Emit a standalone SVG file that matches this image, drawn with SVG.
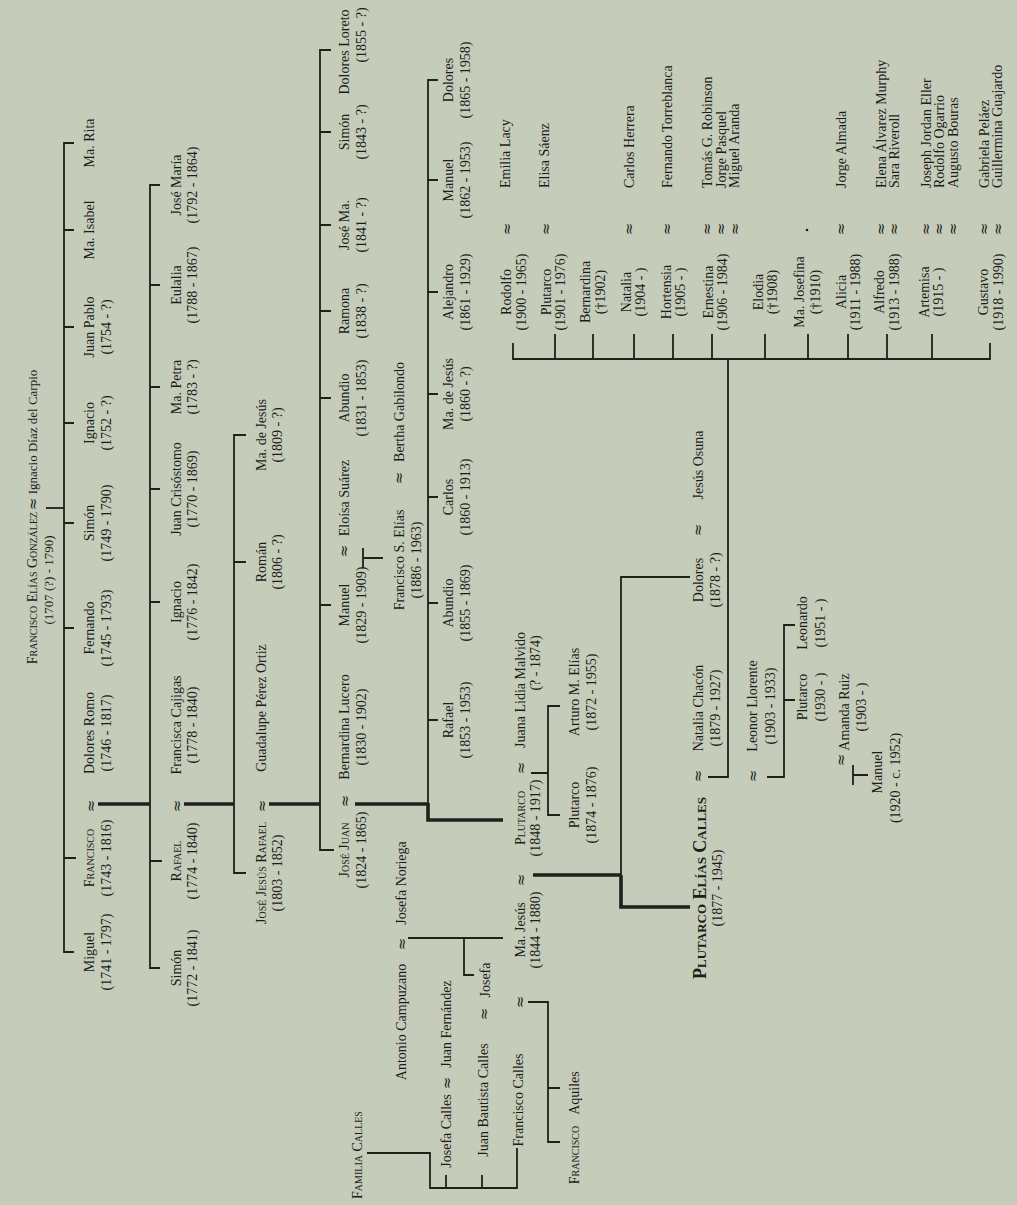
<svg xmlns="http://www.w3.org/2000/svg" width="1017" height="1205" viewBox="0 0 1017 1205">
<style>
.t{font-family:"Liberation Serif","Times New Roman",serif;font-size:14px;fill:#1b1d18;text-anchor:middle}
.s{text-anchor:start}
.sc{font-variant:small-caps}
.sm{font-size:13px}
.big{font-size:18px;font-weight:bold}
.m{font-family:"DejaVu Serif",serif;font-size:15px;fill:#1b1d18;text-anchor:middle}
.l{stroke:#1f211c;stroke-width:1.8;fill:none}
.k{stroke:#1f211c;stroke-width:3.6;fill:none}
</style>
<rect width="1017" height="1205" fill="#c6ccba"/>

<g id="connectors">
  <path class="l" d="M46 508H64"/>
  <path class="l" d="M74 143H64V952H74M64 230H74M64 327H74M64 423H74M64 523H74M64 628H74M64 858H76"/>
  <path class="k" d="M98 804H150"/>
  <path class="l" d="M160 185H150V968H160M150 285H160M150 387H160M150 489H160M150 602H160M150 861H162"/>
  <path class="k" d="M184 804H234"/>
  <path class="l" d="M246 435H234V873H246M234 562H246"/>
  <path class="k" d="M269 804H320"/>
  <path class="l" d="M331 50H320V850H334M320 132H331M320 225H331M320 311H331M320 398H331M320 605H331"/>
  <path class="k" d="M355 804H428"/>
  <path class="l" d="M363 548V568M363 558H383"/>
  <path class="l" d="M438 80H428V804M428 180H438M428 292H438M428 394H438M428 497H438M428 603H438M428 720H438"/>
  <path class="k" d="M428 803V820H503"/>
  <path class="l" d="M531 773H548M560 706H548V815H560"/>
  <path class="k" d="M533 875H621M621 875V907H690"/>
  <path class="l" d="M690 577H621V875"/>
  <path class="l" d="M408 938H503M464 938V975H474"/>
  <path class="l" d="M367 1153H430V1188H517V1148M446 1188V1175M482 1188V1175"/>
  <path class="l" d="M528 1002H548V1142H560M548 1088H560"/>
  <path class="l" d="M708 777H728V359M513 343V359H990V343M555 359V334M593 359V334M634 359V334M673 359V334M712 359V334M765 359V334M808 359V334M848 359V334M887 359V334M932 359V334"/>
  <path class="l" d="M767 777H784V625H795M784 700H795"/>
  <path class="l" d="M853 765V785M853 775H868"/>
</g>

<!-- Generation 0 -->
<g id="n-ignacio-diaz"><text class="t sm" transform="translate(37 432) rotate(-90)">Ignacio Díaz del Carpio</text></g>
<g id="m-g0"><text class="m" transform="translate(38 504) rotate(-90)">≈</text></g>
<g id="n-francisco-elias-gonzalez"><text class="t sc" transform="translate(37 588) rotate(-90)">Francisco Elías González</text><text class="t sm" transform="translate(53 580) rotate(-90)">(1707 (?) - 1790)</text></g>

<!-- Generation 1 -->
<g id="n-ma-rita"><text class="t" transform="translate(94 143) rotate(-90)">Ma. Rita</text></g>
<g id="n-ma-isabel"><text class="t" transform="translate(94 230) rotate(-90)">Ma. Isabel</text></g>
<g id="n-juan-pablo"><text class="t" transform="translate(94 327) rotate(-90)">Juan Pablo</text><text class="t" transform="translate(111 327) rotate(-90)">(1754 - ?)</text></g>
<g id="n-ignacio-1"><text class="t" transform="translate(94 423) rotate(-90)">Ignacio</text><text class="t" transform="translate(111 423) rotate(-90)">(1752 - ?)</text></g>
<g id="n-simon-1"><text class="t" transform="translate(94 523) rotate(-90)">Simón</text><text class="t" transform="translate(111 523) rotate(-90)">(1749 - 1790)</text></g>
<g id="n-fernando"><text class="t" transform="translate(94 628) rotate(-90)">Fernando</text><text class="t" transform="translate(111 628) rotate(-90)">(1745 - 1793)</text></g>
<g id="n-dolores-romo"><text class="t" transform="translate(94 733) rotate(-90)">Dolores Romo</text><text class="t" transform="translate(111 733) rotate(-90)">(1746 - 1817)</text></g>
<g id="m-g1"><text class="m" transform="translate(96 806) rotate(-90)">≈</text></g>
<g id="n-francisco"><text class="t sc" transform="translate(94 858) rotate(-90)">Francisco</text><text class="t" transform="translate(111 858) rotate(-90)">(1743 - 1816)</text></g>
<g id="n-miguel"><text class="t" transform="translate(94 952) rotate(-90)">Miguel</text><text class="t" transform="translate(111 952) rotate(-90)">(1741 - 1797)</text></g>

<!-- Generation 2 -->
<g id="n-jose-maria"><text class="t" transform="translate(181 185) rotate(-90)">José María</text><text class="t" transform="translate(197 185) rotate(-90)">(1792 - 1864)</text></g>
<g id="n-eulalia"><text class="t" transform="translate(181 285) rotate(-90)">Eulalia</text><text class="t" transform="translate(197 285) rotate(-90)">(1788 - 1867)</text></g>
<g id="n-ma-petra"><text class="t" transform="translate(181 387) rotate(-90)">Ma. Petra</text><text class="t" transform="translate(197 387) rotate(-90)">(1783 - ?)</text></g>
<g id="n-juan-crisostomo"><text class="t" transform="translate(181 489) rotate(-90)">Juan Crisóstomo</text><text class="t" transform="translate(197 489) rotate(-90)">(1770 - 1869)</text></g>
<g id="n-ignacio-2"><text class="t" transform="translate(181 602) rotate(-90)">Ignacio</text><text class="t" transform="translate(197 602) rotate(-90)">(1776 - 1842)</text></g>
<g id="n-francisca-cajigas"><text class="t" transform="translate(181 725) rotate(-90)">Francisca Cajigas</text><text class="t" transform="translate(197 725) rotate(-90)">(1778 - 1840)</text></g>
<g id="m-g2"><text class="m" transform="translate(182 806) rotate(-90)">≈</text></g>
<g id="n-rafael"><text class="t sc" transform="translate(181 861) rotate(-90)">Rafael</text><text class="t" transform="translate(197 861) rotate(-90)">(1774 - 1840)</text></g>
<g id="n-simon-2"><text class="t" transform="translate(181 968) rotate(-90)">Simón</text><text class="t" transform="translate(197 968) rotate(-90)">(1772 - 1841)</text></g>

<!-- Generation 3 -->
<g id="n-ma-de-jesus-3"><text class="t" transform="translate(266 435) rotate(-90)">Ma. de Jesús</text><text class="t" transform="translate(282 435) rotate(-90)">(1809 - ?)</text></g>
<g id="n-roman"><text class="t" transform="translate(266 562) rotate(-90)">Román</text><text class="t" transform="translate(282 562) rotate(-90)">(1806 - ?)</text></g>
<g id="n-guadalupe"><text class="t" transform="translate(266 708) rotate(-90)">Guadalupe Pérez Ortiz</text></g>
<g id="m-g3"><text class="m" transform="translate(267 806) rotate(-90)">≈</text></g>
<g id="n-jose-jesus-rafael"><text class="t sc" transform="translate(266 873) rotate(-90)">José Jesús Rafael</text><text class="t" transform="translate(282 873) rotate(-90)">(1803 - 1852)</text></g>

<!-- Generation 4 -->
<g id="n-dolores-loreto"><text class="t" transform="translate(349 52) rotate(-90)">Dolores Loreto</text><text class="t" transform="translate(366 35) rotate(-90)">(1855 - ?)</text></g>
<g id="n-simon-4"><text class="t" transform="translate(349 132) rotate(-90)">Simón</text><text class="t" transform="translate(366 132) rotate(-90)">(1843 - ?)</text></g>
<g id="n-jose-ma"><text class="t" transform="translate(349 225) rotate(-90)">José Ma.</text><text class="t" transform="translate(366 225) rotate(-90)">(1841 - ?)</text></g>
<g id="n-ramona"><text class="t" transform="translate(349 311) rotate(-90)">Ramona</text><text class="t" transform="translate(366 311) rotate(-90)">(1838 - ?)</text></g>
<g id="n-abundio-4"><text class="t" transform="translate(349 398) rotate(-90)">Abundio</text><text class="t" transform="translate(366 398) rotate(-90)">(1831 - 1853)</text></g>
<g id="n-eloisa"><text class="t" transform="translate(349 498) rotate(-90)">Eloísa Suárez</text></g>
<g id="m-g4a"><text class="m" transform="translate(349 551) rotate(-90)">≈</text></g>
<g id="n-manuel-4"><text class="t" transform="translate(349 605) rotate(-90)">Manuel</text><text class="t" transform="translate(366 605) rotate(-90)">(1829 - 1909)</text></g>
<g id="n-bernardina-lucero"><text class="t" transform="translate(349 727) rotate(-90)">Bernardina Lucero</text><text class="t" transform="translate(366 727) rotate(-90)">(1830 - 1902)</text></g>
<g id="m-g4b"><text class="m" transform="translate(350 801) rotate(-90)">≈</text></g>
<g id="n-jose-juan"><text class="t sc" transform="translate(349 850) rotate(-90)">José Juan</text><text class="t" transform="translate(366 850) rotate(-90)">(1824 - 1865)</text></g>
<g id="n-bertha"><text class="t" transform="translate(404 412) rotate(-90)">Bertha Gabilondo</text></g>
<g id="m-g4c"><text class="m" transform="translate(404 478) rotate(-90)">≈</text></g>
<g id="n-francisco-s-elias"><text class="t" transform="translate(404 560) rotate(-90)">Francisco S. Elías</text><text class="t" transform="translate(421 560) rotate(-90)">(1886 - 1963)</text></g>

<!-- Generation 5 -->
<g id="n-dolores-5"><text class="t" transform="translate(453 80) rotate(-90)">Dolores</text><text class="t" transform="translate(470 80) rotate(-90)">(1865 - 1958)</text></g>
<g id="n-manuel-5"><text class="t" transform="translate(453 180) rotate(-90)">Manuel</text><text class="t" transform="translate(470 180) rotate(-90)">(1862 - 1953)</text></g>
<g id="n-alejandro"><text class="t" transform="translate(453 292) rotate(-90)">Alejandro</text><text class="t" transform="translate(470 292) rotate(-90)">(1861 - 1929)</text></g>
<g id="n-ma-de-jesus-5"><text class="t" transform="translate(453 394) rotate(-90)">Ma. de Jesús</text><text class="t" transform="translate(470 394) rotate(-90)">(1860 - ?)</text></g>
<g id="n-carlos"><text class="t" transform="translate(453 497) rotate(-90)">Carlos</text><text class="t" transform="translate(470 497) rotate(-90)">(1860 - 1913)</text></g>
<g id="n-abundio-5"><text class="t" transform="translate(453 603) rotate(-90)">Abundio</text><text class="t" transform="translate(470 603) rotate(-90)">(1855 - 1869)</text></g>
<g id="n-rafael-5"><text class="t" transform="translate(453 720) rotate(-90)">Rafael</text><text class="t" transform="translate(470 720) rotate(-90)">(1853 - 1953)</text></g>

<!-- Plutarco column -->
<g id="n-juana"><text class="t" transform="translate(525 690) rotate(-90)">Juana Lidia Malvido</text><text class="t" transform="translate(540 663) rotate(-90)">(? - 1874)</text></g>
<g id="m-g5a"><text class="m" transform="translate(526 768) rotate(-90)">≈</text></g>
<g id="n-plutarco"><text class="t sc" transform="translate(525 818) rotate(-90)">Plutarco</text><text class="t" transform="translate(540 818) rotate(-90)">(1848 - 1917)</text></g>
<g id="m-g5b"><text class="m" transform="translate(526 880) rotate(-90)">≈</text></g>
<g id="n-ma-jesus"><text class="t" transform="translate(525 930) rotate(-90)">Ma. Jesús</text><text class="t" transform="translate(540 930) rotate(-90)">(1844 - 1880)</text></g>
<g id="n-arturo"><text class="t" transform="translate(579 692) rotate(-90)">Arturo M. Elías</text><text class="t" transform="translate(596 692) rotate(-90)">(1872 - 1955)</text></g>
<g id="n-plutarco-1874"><text class="t" transform="translate(579 805) rotate(-90)">Plutarco</text><text class="t" transform="translate(596 805) rotate(-90)">(1874 - 1876)</text></g>

<!-- Campuzano / Calles -->
<g id="n-josefa-noriega"><text class="t" transform="translate(406 883) rotate(-90)">Josefa Noriega</text></g>
<g id="m-c1"><text class="m" transform="translate(407 944) rotate(-90)">≈</text></g>
<g id="n-antonio-campuzano"><text class="t" transform="translate(406 1022) rotate(-90)">Antonio Campuzano</text></g>
<g id="n-familia-calles"><text class="t sc" transform="translate(362 1155) rotate(-90)">Familia Calles</text></g>
<g id="n-juan-fernandez"><text class="t" transform="translate(451 1024) rotate(-90)">Juan Fernández</text></g>
<g id="m-c2"><text class="m" transform="translate(452 1083) rotate(-90)">≈</text></g>
<g id="n-josefa-calles"><text class="t" transform="translate(451 1131) rotate(-90)">Josefa Calles</text></g>
<g id="n-josefa"><text class="t" transform="translate(490 980) rotate(-90)">Josefa</text></g>
<g id="m-c3"><text class="m" transform="translate(489 1014) rotate(-90)">≈</text></g>
<g id="n-juan-bautista"><text class="t" transform="translate(488 1100) rotate(-90)">Juan Bautista Calles</text></g>
<g id="m-c4"><text class="m" transform="translate(525 1002) rotate(-90)">≈</text></g>
<g id="n-francisco-calles"><text class="t" transform="translate(523 1100) rotate(-90)">Francisco Calles</text></g>
<g id="n-aquiles"><text class="t" transform="translate(579 1093) rotate(-90)">Aquiles</text></g>
<g id="n-francisco-calles-jr"><text class="t sc" transform="translate(579 1155) rotate(-90)">Francisco</text></g>

<!-- Plutarco Elias Calles and siblings -->
<g id="n-jesus-osuna"><text class="t" transform="translate(703 465) rotate(-90)">Jesús Osuna</text></g>
<g id="m-p1"><text class="m" transform="translate(703 530) rotate(-90)">≈</text></g>
<g id="n-dolores-1878"><text class="t" transform="translate(703 580) rotate(-90)">Dolores</text><text class="t" transform="translate(720 580) rotate(-90)">(1878 - ?)</text></g>
<g id="n-natalia-chacon"><text class="t" transform="translate(703 708) rotate(-90)">Natalia Chacón</text><text class="t" transform="translate(720 708) rotate(-90)">(1879 - 1927)</text></g>
<g id="m-p2"><text class="m" transform="translate(703 776) rotate(-90)">≈</text></g>
<g id="n-pec"><text class="t sc big" transform="translate(706 888) rotate(-90)">Plutarco Elías Calles</text><text class="t" transform="translate(722 888) rotate(-90)">(1877 - 1945)</text></g>
<g id="m-p3"><text class="m" transform="translate(758 776) rotate(-90)">≈</text></g>
<g id="n-leonor"><text class="t" transform="translate(757 706) rotate(-90)">Leonor Llorente</text><text class="t" transform="translate(775 706) rotate(-90)">(1903 - 1933)</text></g>
<g id="n-leonardo"><text class="t" transform="translate(807 623) rotate(-90)">Leonardo</text><text class="t" transform="translate(825 623) rotate(-90)">(1951 - )</text></g>
<g id="n-plutarco-1930"><text class="t" transform="translate(807 697) rotate(-90)">Plutarco</text><text class="t" transform="translate(825 697) rotate(-90)">(1930 - )</text></g>
<g id="m-p4"><text class="m" transform="translate(846 760) rotate(-90)">≈</text></g>
<g id="n-amanda"><text class="t" transform="translate(849 712) rotate(-90)">Amanda Ruiz</text><text class="t" transform="translate(866 707) rotate(-90)">(1903 - )</text></g>
<g id="n-manuel-1920"><text class="t" transform="translate(882 772) rotate(-90)">Manuel</text><text class="t" transform="translate(900 778) rotate(-90)">(1920 - c. 1952)</text></g>

<!-- Generation 6 -->
<g id="n-rodolfo"><text class="t" transform="translate(511 292) rotate(-90)">Rodolfo</text><text class="t" transform="translate(526 292) rotate(-90)">(1900 - 1965)</text></g>
<g id="n-emilia"><text class="m" transform="translate(512 229) rotate(-90)">≈</text><text class="t s" transform="translate(510 188) rotate(-90)">Emilia Lacy</text></g>
<g id="n-plutarco-1901"><text class="t" transform="translate(551 292) rotate(-90)">Plutarco</text><text class="t" transform="translate(565 292) rotate(-90)">(1901 - 1976)</text></g>
<g id="n-elisa"><text class="m" transform="translate(551 229) rotate(-90)">≈</text><text class="t s" transform="translate(549 188) rotate(-90)">Elisa Sáenz</text></g>
<g id="n-bernardina"><text class="t" transform="translate(590 292) rotate(-90)">Bernardina</text><text class="t" transform="translate(605 292) rotate(-90)">(†1902)</text></g>
<g id="n-natalia"><text class="t" transform="translate(631 292) rotate(-90)">Natalia</text><text class="t" transform="translate(645 292) rotate(-90)">(1904 - )</text></g>
<g id="n-carlos-herrera"><text class="m" transform="translate(634 229) rotate(-90)">≈</text><text class="t s" transform="translate(634 188) rotate(-90)">Carlos Herrera</text></g>
<g id="n-hortensia"><text class="t" transform="translate(671 292) rotate(-90)">Hortensia</text><text class="t" transform="translate(685 292) rotate(-90)">(1905 - )</text></g>
<g id="n-fernando-t"><text class="m" transform="translate(672 229) rotate(-90)">≈</text><text class="t s" transform="translate(672 188) rotate(-90)">Fernando Torreblanca</text></g>
<g id="n-ernestina"><text class="t" transform="translate(713 292) rotate(-90)">Ernestina</text><text class="t" transform="translate(727 292) rotate(-90)">(1906 - 1984)</text></g>
<g id="n-ernestina-spouses"><text class="m" transform="translate(712 229) rotate(-90)">≈</text><text class="t s" transform="translate(712 188) rotate(-90)">Tomás G. Robinson</text><text class="m" transform="translate(726 229) rotate(-90)">≈</text><text class="t s" transform="translate(726 188) rotate(-90)">Jorge Pasquel</text><text class="m" transform="translate(740 229) rotate(-90)">≈</text><text class="t s" transform="translate(739 188) rotate(-90)">Miguel Aranda</text></g>
<g id="n-elodia"><text class="t" transform="translate(763 292) rotate(-90)">Elodia</text><text class="t" transform="translate(777 292) rotate(-90)">(†1908)</text></g>
<g id="n-ma-josefina"><text class="t" transform="translate(804 292) rotate(-90)">Ma. Josefina</text><text class="t" transform="translate(820 292) rotate(-90)">(†1910)</text><circle cx="807" cy="230" r="1.3" fill="#1b1d18"/></g>
<g id="n-alicia"><text class="t" transform="translate(846 292) rotate(-90)">Alicia</text><text class="t" transform="translate(860 292) rotate(-90)">(1911 - 1988)</text></g>
<g id="n-jorge-almada"><text class="m" transform="translate(846 229) rotate(-90)">≈</text><text class="t s" transform="translate(846 188) rotate(-90)">Jorge Almada</text></g>
<g id="n-alfredo"><text class="t" transform="translate(884 292) rotate(-90)">Alfredo</text><text class="t" transform="translate(899 292) rotate(-90)">(1913 - 1988)</text></g>
<g id="n-alfredo-spouses"><text class="m" transform="translate(886 229) rotate(-90)">≈</text><text class="t s" transform="translate(886 188) rotate(-90)">Elena Álvarez Murphy</text><text class="m" transform="translate(899 229) rotate(-90)">≈</text><text class="t s" transform="translate(899 188) rotate(-90)">Sara Riveroll</text></g>
<g id="n-artemisa"><text class="t" transform="translate(929 292) rotate(-90)">Artemisa</text><text class="t" transform="translate(943 292) rotate(-90)">(1915 - )</text></g>
<g id="n-artemisa-spouses"><text class="m" transform="translate(931 229) rotate(-90)">≈</text><text class="t s" transform="translate(931 188) rotate(-90)">Joseph Jordan Eller</text><text class="m" transform="translate(944 229) rotate(-90)">≈</text><text class="t s" transform="translate(944 188) rotate(-90)">Rodolfo Ogarrio</text><text class="m" transform="translate(958 229) rotate(-90)">≈</text><text class="t s" transform="translate(958 188) rotate(-90)">Augusto Bouras</text></g>
<g id="n-gustavo"><text class="t" transform="translate(988 292) rotate(-90)">Gustavo</text><text class="t" transform="translate(1003 292) rotate(-90)">(1918 - 1990)</text></g>
<g id="n-gustavo-spouses"><text class="m" transform="translate(989 229) rotate(-90)">≈</text><text class="t s" transform="translate(989 188) rotate(-90)">Gabriela Peláez</text><text class="m" transform="translate(1003 229) rotate(-90)">≈</text><text class="t s" transform="translate(1002 188) rotate(-90)">Guillermina Guajardo</text></g>
</svg>
